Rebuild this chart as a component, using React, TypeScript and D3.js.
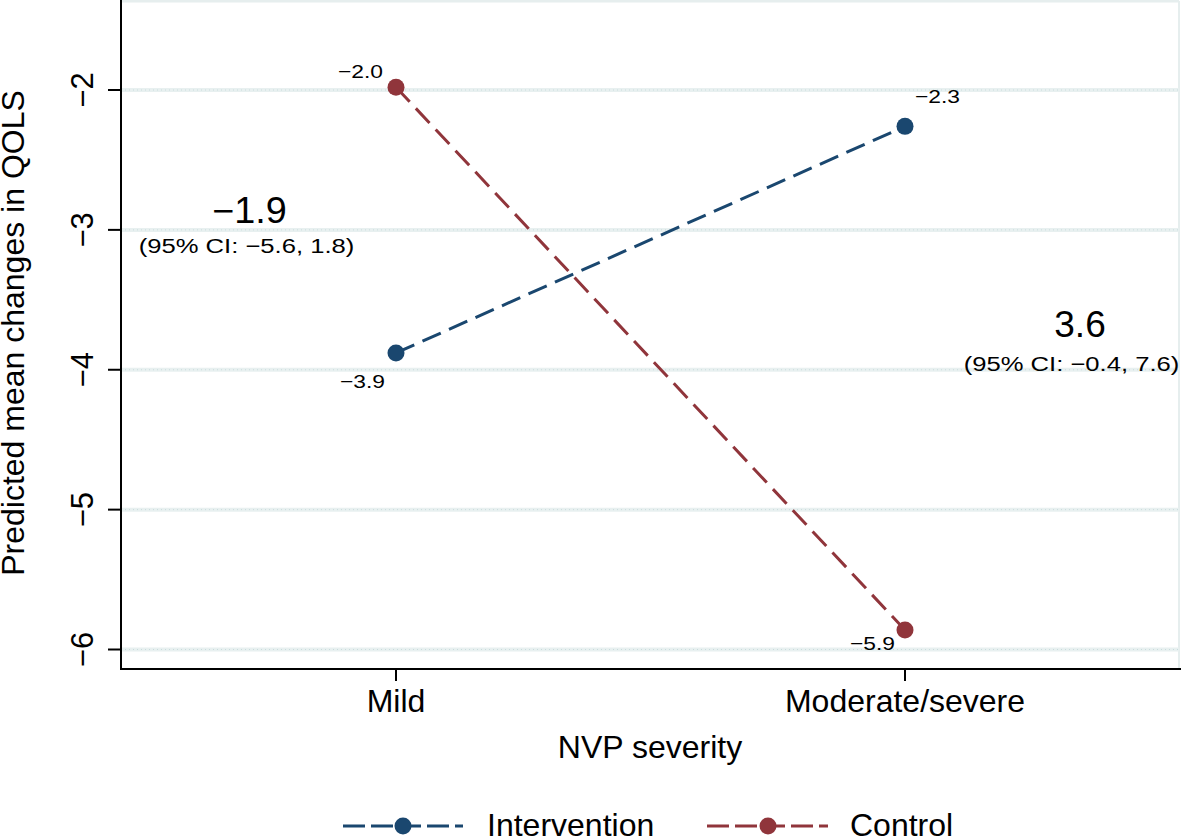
import React from "react";
import * as d3 from "d3";

const categories = ["Mild", "Moderate/severe"];
const intervention = [-3.88, -2.26];
const control = [-1.98, -5.86];
const interventionLabels = ["−3.9", "−2.3"];
const controlLabels = ["−2.0", "−5.9"];
const yTicks = [-2, -3, -4, -5, -6];
const seriesNames = ["Intervention", "Control"];
const colors = ["#1a476f", "#90353b"];

const W = 1181, H = 839;
const FONT = "'Liberation Sans', Arial, Helvetica, sans-serif";

function SText({ x, y, sx, size, anchor, children }: any) {
  return (
    <text transform={`translate(${x},${y}) scale(${sx},1)`} textAnchor={anchor} fontSize={size} fill="#000">
      {children}
    </text>
  );
}

export default function App() {
  const x = d3.scalePoint<string>().domain(categories).range([396, 905]);
  const y = d3.scaleLinear().domain([-6, -2]).range([649.5, 90]);
  const left = 121, right = 1179, bottom = 669, top = 1;
  const line = d3.line<[number, number]>().x(d => d[0]).y(d => d[1]);
  const pts = (vals: number[]) => vals.map((v, i) => [x(categories[i])!, y(v)] as [number, number]);
  const iPts = pts(intervention);
  const cPts = pts(control);
  const fmt = (v: number) => String(v).replace("-", "−");
  const legend = [
    { x0: 343, x1: 463, mx: 403, tx: 487 },
    { x0: 707, x1: 828, mx: 768, tx: 850 },
  ];
  return (
    <svg width={W} height={H} style={{ position: "absolute", left: 0, top: 0, background: "#fff" }} fontFamily={FONT}>
      <rect x={0} y={0} width={W} height={H} fill="#fff" />
      <line x1={left} x2={right} y1={top} y2={top} stroke="#e6eeee" strokeWidth={3} />
      <line x1={right} x2={right} y1={top} y2={bottom} stroke="#e6eeee" strokeWidth={2} />
      {yTicks.map(t => (
        <g key={t}>
          <line x1={left} x2={right} y1={y(t)} y2={y(t)} stroke="#e8f0f0" strokeWidth={4} />
          <line x1={left} x2={right} y1={y(t)} y2={y(t)} stroke="#c8dcdc" strokeWidth={1} strokeDasharray="1,3" />
        </g>
      ))}
      <line x1={left} x2={left} y1={0} y2={bottom + 1} stroke="#000" strokeWidth={2} />
      <line x1={left - 1} x2={right + 2} y1={bottom} y2={bottom} stroke="#000" strokeWidth={2} />
      {yTicks.map(t => (
        <g key={"t" + t}>
          <line x1={left - 13} x2={left} y1={y(t)} y2={y(t)} stroke="#000" strokeWidth={2} />
          <text transform={`translate(${93},${y(t)}) rotate(-90)`} textAnchor="middle" fontSize={31} fill="#000">
            {fmt(t)}
          </text>
        </g>
      ))}
      {categories.map(c => (
        <g key={c}>
          <line x1={x(c)!} x2={x(c)!} y1={bottom} y2={bottom + 12} stroke="#000" strokeWidth={2} />
          <text x={x(c)!} y={712} textAnchor="middle" fontSize={32} fill="#000">{c}</text>
        </g>
      ))}
      <text x={650} y={758} textAnchor="middle" fontSize={32} fill="#000">NVP severity</text>
      <text transform={`translate(24,${333}) rotate(-90)`} textAnchor="middle" fontSize={32} fill="#000">
        Predicted mean changes in QOLS
      </text>
      <path d={line(iPts)!} fill="none" stroke={colors[0]} strokeWidth={3} strokeDasharray="20,9" />
      <path d={line(cPts)!} fill="none" stroke={colors[1]} strokeWidth={3} strokeDasharray="20,9" />
      {iPts.map((p, i) => <circle key={"i" + i} cx={p[0]} cy={p[1]} r={8.5} fill={colors[0]} />)}
      {cPts.map((p, i) => <circle key={"c" + i} cx={p[0]} cy={p[1]} r={8.5} fill={colors[1]} />)}
      <SText x={cPts[0][0] - 13} y={cPts[0][1] - 9} sx={1.2} size={19} anchor="end">{controlLabels[0]}</SText>
      <SText x={iPts[1][0] + 10} y={iPts[1][1] - 23} sx={1.2} size={19} anchor="start">{interventionLabels[1]}</SText>
      <SText x={iPts[0][0] - 11} y={iPts[0][1] + 35} sx={1.2} size={19} anchor="end">{interventionLabels[0]}</SText>
      <SText x={cPts[1][0] - 10} y={cPts[1][1] + 20} sx={1.2} size={19} anchor="end">{controlLabels[1]}</SText>
      <SText x={249.5} y={223} sx={1.05} size={36} anchor="middle">−1.9</SText>
      <SText x={246.5} y={253} sx={1.22} size={21} anchor="middle">(95% CI: −5.6, 1.8)</SText>
      <SText x={1080} y={337} sx={1.0} size={37} anchor="middle">3.6</SText>
      <SText x={1071.5} y={371} sx={1.22} size={21} anchor="middle">(95% CI: −0.4, 7.6)</SText>
      {legend.map((l, i) => (
        <g key={"lg" + i}>
          <line x1={l.x0} x2={l.x1} y1={826} y2={826} stroke={colors[i]} strokeWidth={3} strokeDasharray="22,6" />
          <circle cx={l.mx} cy={826} r={8.5} fill={colors[i]} />
          <text x={l.tx} y={836} fontSize={32} fill="#000">{seriesNames[i]}</text>
        </g>
      ))}
    </svg>
  );
}
